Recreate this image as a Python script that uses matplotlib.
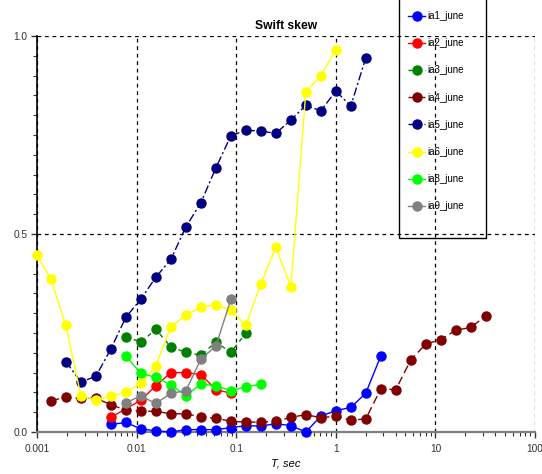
import matplotlib
matplotlib.use("Agg")
import matplotlib.pyplot as plt
from matplotlib.patches import Rectangle

plt.rcParams['font.family'] = ['Liberation Sans', 'DejaVu Sans']

# ---- data ----
T = [0.001, 0.00138, 0.00195, 0.00276, 0.00391, 0.00552, 0.00781, 0.0110,
     0.0156, 0.0221, 0.03125, 0.0442, 0.0625, 0.0884, 0.125, 0.177, 0.25,
     0.354, 0.5, 0.707, 1.0, 1.414, 2.0, 2.83, 4.0, 5.66, 8.0, 11.3, 16.0,
     22.6, 32.0]

ia1_x = T[5:24]
ia1_y = [0.019, 0.024, 0.008, 0.003, 0.0, 0.006, 0.006, 0.006, 0.011, 0.016,
         0.015, 0.021, 0.016, 0.0, 0.040, 0.054, 0.062, 0.098, 0.192]

ia2_x = [T[5]] + T[7:14]
ia2_y = [0.037, 0.080, 0.117, 0.150, 0.150, 0.145, 0.107, 0.098]

ia3_x = T[6:15]
ia3_y = [0.241, 0.227, 0.259, 0.215, 0.201, 0.194, 0.227, 0.201, 0.250]

ia4_x = T[1:31]
ia4_y = [0.079, 0.088, 0.085, 0.085, 0.069, 0.055, 0.053, 0.052, 0.046, 0.046,
         0.038, 0.035, 0.027, 0.025, 0.025, 0.027, 0.037, 0.044, 0.036, 0.040,
         0.030, 0.033, 0.109, 0.107, 0.182, 0.222, 0.233, 0.257, 0.264, 0.293]

ia5_x = T[2:23]
ia5_y = [0.178, 0.126, 0.141, 0.210, 0.290, 0.335, 0.391, 0.436, 0.518, 0.579,
         0.667, 0.748, 0.762, 0.760, 0.754, 0.788, 0.825, 0.811, 0.861, 0.823,
         0.945]

ia6_x = T[0:21]
ia6_y = [0.446, 0.386, 0.269, 0.091, 0.081, 0.091, 0.100, 0.123, 0.167, 0.266,
         0.295, 0.316, 0.321, 0.308, 0.269, 0.375, 0.466, 0.367, 0.859, 0.900,
         0.965]

ia8_x = T[6:16]
ia8_y = [0.192, 0.148, 0.138, 0.119, 0.092, 0.121, 0.117, 0.104, 0.114, 0.121]

ia9_x = T[6:14]
ia9_y = [0.074, 0.091, 0.072, 0.098, 0.104, 0.184, 0.217, 0.335]

labels = ['ia1_june', 'ia2_june', 'ia3_june', 'ia4_june', 'ia5_june',
          'ia6_june', 'ia8_june', 'ia9_june']
colors = ['#0000FF', '#FF0000', '#008000', '#800000', '#000080', '#FFFF00',
          '#00FF00', '#808080']
styles = ['-', '-', (0, (3, 3)), (0, (6, 3)), (0, (6, 2, 1.5, 2)), '-', '-', '-']

xticks = [0.001, 0.01, 0.1, 1, 10, 100]
xticklabels = ['0.001', '0.01', '0.1', '1', '10', '100']
yticks = [0.0, 0.5, 1.0]
yticklabels = ['0.0', '0.5', '1.0']

# ---- figure ----
fig = plt.figure(figsize=(5.42, 4.74), dpi=100)
ax = fig.add_axes([37/542, 1-432/474, (535-37)/542, (432-36)/474])

series = [(ia1_x, ia1_y), (ia2_x, ia2_y), (ia3_x, ia3_y), (ia4_x, ia4_y),
          (ia5_x, ia5_y), (ia6_x, ia6_y), (ia8_x, ia8_y), (ia9_x, ia9_y)]
handles = []
for (xs, ys), lab, c, ls in zip(series, labels, colors, styles):
    h, = ax.plot(xs, ys, linestyle=ls, color=c, linewidth=1.0, marker='o',
                 markersize=6.5, markerfacecolor=c, markeredgecolor=c,
                 label=lab, clip_on=False, zorder=3)
    handles.append(h)

ax.set_xscale('log')
ax.set_xlim(0.001, 100)
ax.set_ylim(0, 1)

ax.set_xticks(xticks)
ax.set_xticklabels(xticklabels)
ax.set_yticks(yticks)
ax.set_yticklabels(yticklabels)
ax.set_yticks([i * 0.05 for i in range(21)], minor=True)

ax.tick_params(axis='both', which='major', direction='out', length=4,
               width=1, labelsize=7.3, colors='#333333', pad=3)
ax.tick_params(axis='x', which='major', pad=5)
ax.tick_params(axis='both', which='minor', direction='out', length=3,
               width=0.8, colors='#333333')

ax.grid(True, which='major', color='black', linestyle=(0, (3, 3)),
        linewidth=0.9, zorder=1)
ax.set_axisbelow(True)
for s in ['top', 'right']:
    ax.spines[s].set_visible(False)
ax.spines['left'].set_color('black')
ax.spines['left'].set_linewidth(1.2)
ax.spines['bottom'].set_color('#808080')
ax.spines['bottom'].set_linewidth(1.6)

ax.set_title('Swift skew', fontsize=8.7, fontweight='bold', pad=5)
ax.set_xlabel('T, sec', fontsize=8, style='italic', labelpad=3)

# legend box (transparent)
rect = Rectangle((399/542, 1-238/474), 87/542, 240/474, transform=fig.transFigure,
                 facecolor='none', edgecolor='black', linewidth=1.0, zorder=5)
fig.add_artist(rect)
leg = fig.legend(handles=handles, labels=labels, loc='upper left',
                 bbox_to_anchor=(405/542, 1-8/474), frameon=False,
                 fontsize=7, handlelength=1.8, handletextpad=0.25,
                 labelspacing=1.77, borderpad=0.3, borderaxespad=0)
leg.set_zorder(6)

fig.savefig('out.png', dpi=100)
